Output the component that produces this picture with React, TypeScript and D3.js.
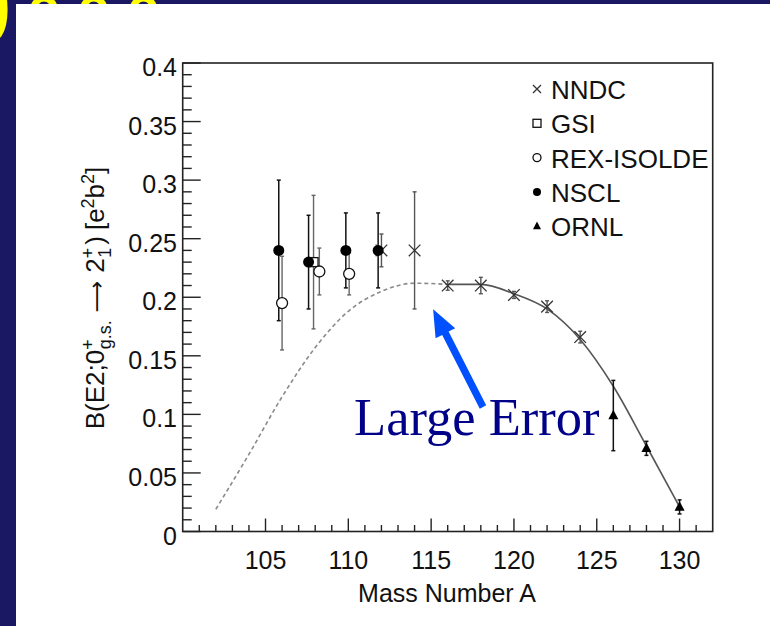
import React from "react";
import * as d3 from "d3";

// ---------- data ----------
const nndcA = [112, 114, 116, 118, 120, 122, 124];
const nndcB = [0.24, 0.24, 0.21, 0.21, 0.202, 0.192, 0.166];
const nndcErr = [0.014, 0.05, 0.004, 0.007, 0.003, 0.005, 0.005];

const gsiA = [107.9];
const gsiB = [0.23];
const gsiErr = [0.057];

const rexA = [106.0, 108.25, 110.05];
const rexB = [0.195, 0.222, 0.22];
const rexErr = [0.04, 0.02, 0.018];

const nsclA = [105.8, 107.6, 109.85, 111.8];
const nsclB = [0.24, 0.23, 0.24, 0.24];
const nsclErr = [0.06, 0.04, 0.032, 0.032];

const ornlA = [126, 128, 130];
const ornlB = [0.099, 0.071, 0.021];
const ornlErr = [0.03, 0.006, 0.006];

const dashA = [102, 104, 106, 108, 110, 112, 114, 116];
const dashB = [0.019, 0.066, 0.115, 0.157, 0.188, 0.205, 0.212, 0.211];

const solidA = [116, 118, 120, 122, 124, 126, 128, 130];
const solidB = [0.211, 0.211, 0.203, 0.19, 0.164, 0.124, 0.073, 0.021];

const xMajorTicks = [105, 110, 115, 120, 125, 130];
const yMajorTicks = [0, 0.05, 0.1, 0.15, 0.2, 0.25, 0.3, 0.35, 0.4];
const yTickLabels = ["0", "0.05", "0.1", "0.15", "0.2", "0.25", "0.3", "0.35", "0.4"];

const legendLabels = ["NNDC", "GSI", "REX-ISOLDE", "NSCL", "ORNL"];
const legendMarkers = ["x", "square", "circle", "dot", "triangle"];

// annotation anchor (data coords)
const arrowTail = { a: 118.13, b: 0.1063 };
const arrowTip = { a: 115.12, b: 0.1898 };
const noteAnchor = { a: 110.35, b: 0.0824 };

// ---------- layout ----------
const W = 770;
const H = 626;
const fl = 182.7, fr = 712.7, ft = 63, fb = 531.5;

const x = d3.scaleLinear().domain([100, 132]).range([fl, fr]);
const y = d3.scaleLinear().domain([0, 0.4]).range([fb, ft]);

const SANS = "'Liberation Sans', Arial, Helvetica, sans-serif";

function Marker({ kind, cx, cy, s }: { kind: string; cx: number; cy: number; s: number }) {
  if (kind === "x")
    return (
      <path
        d={`M${cx - s},${cy - s}L${cx + s},${cy + s}M${cx - s},${cy + s}L${cx + s},${cy - s}`}
        stroke="#333"
        strokeWidth={1.3}
        fill="none"
      />
    );
  if (kind === "square")
    return <rect x={cx - s} y={cy - s} width={2 * s} height={2 * s} fill="#fff" stroke="#111" strokeWidth={1.3} />;
  if (kind === "circle") return <circle cx={cx} cy={cy} r={s} fill="#fff" stroke="#111" strokeWidth={1.3} />;
  if (kind === "dot") return <circle cx={cx} cy={cy} r={s} fill="#000" />;
  // triangle
  return (
    <path
      d={`M${cx},${cy - s * 1.15}L${cx + s},${cy + s * 0.75}L${cx - s},${cy + s * 0.75}Z`}
      fill="#000"
    />
  );
}

function ErrBars({ A, B, E, color, width }: { A: number[]; B: number[]; E: number[]; color: string; width: number }) {
  return (
    <g stroke={color} strokeWidth={width} fill="none">
      {A.map((a, i) => {
        const px = x(a);
        const y1 = y(B[i] + E[i]);
        const y0 = y(B[i] - E[i]);
        return (
          <g key={i}>
            <line x1={px} x2={px} y1={y1} y2={y0} />
            <line x1={px - 2} x2={px + 2} y1={y1} y2={y1} />
            <line x1={px - 2} x2={px + 2} y1={y0} y2={y0} />
          </g>
        );
      })}
    </g>
  );
}

export default function App() {
  const dashPath = d3
    .line<number>()
    .x((_, i) => x(dashA[i]))
    .y((d) => y(d))
    .curve(d3.curveMonotoneX)(dashB) as string;
  const solidPath = d3
    .line<number>()
    .x((_, i) => x(solidA[i]))
    .y((d) => y(d))
    .curve(d3.curveMonotoneX)(solidB) as string;

  const xMinor = d3.range(101, 132).filter((v) => v % 5 !== 0);
  const yMinor = d3.range(0, 41).map((v) => v / 100).filter((_, i) => i % 5 !== 0);

  // arrow geometry
  const tx = x(arrowTail.a), ty = y(arrowTail.b);
  const hx = x(arrowTip.a), hy = y(arrowTip.b);
  const ang = Math.atan2(hy - ty, hx - tx);
  const ux = Math.cos(ang), uy = Math.sin(ang);
  const nx = -uy, ny = ux;
  const headLen = 27, headW = 11, shaftW = 3.6;
  const bx = hx - ux * headLen, by = hy - uy * headLen;
  const arrowPts = [
    [tx + nx * shaftW, ty + ny * shaftW],
    [bx + nx * shaftW, by + ny * shaftW],
    [bx + nx * headW, by + ny * headW],
    [hx, hy],
    [bx - nx * headW, by - ny * headW],
    [bx - nx * shaftW, by - ny * shaftW],
    [tx - nx * shaftW, ty - ny * shaftW],
  ]
    .map((p) => p.join(","))
    .join(" ");

  const legendY = (i: number) => 89 + i * 34.3;

  return (
    <svg width={W} height={H} style={{ position: "absolute", left: 0, top: 0 }}>
      <rect x={0} y={0} width={W} height={H} fill="#1a1862" />
      {/* title fragments, cut off by the white panel */}
      <text x={-44} y={44} fontFamily={SANS} fontWeight="bold" fontSize={100} fill="#ffff00">
        0
      </text>
      <text x={28} y={24} fontFamily={SANS} fontWeight="bold" fontSize={52} fill="#ffff00" letterSpacing={18}>
        ooo
      </text>
      <rect x={16} y={4} width={W - 16} height={H - 4} fill="#ffffff" />

      {/* curves */}
      <path d={dashPath} fill="none" stroke="#8a8a8a" strokeWidth={1.6} strokeDasharray="4,3" />
      <path d={solidPath} fill="none" stroke="#555" strokeWidth={1.6} />

      {/* frame */}
      <rect x={fl} y={ft} width={fr - fl} height={fb - ft} fill="none" stroke="#222" strokeWidth={1.6} />

      {/* ticks */}
      <g stroke="#222" strokeWidth={1.4}>
        {xMajorTicks.map((t) => (
          <line key={"xM" + t} x1={x(t)} x2={x(t)} y1={fb} y2={fb - 13} />
        ))}
        {xMinor.map((t) => (
          <line key={"xm" + t} x1={x(t)} x2={x(t)} y1={fb} y2={fb - 6.5} />
        ))}
        {yMajorTicks.map((t) => (
          <line key={"yM" + t} x1={fl} x2={fl + 18} y1={y(t)} y2={y(t)} />
        ))}
        {yMinor.map((t) => (
          <line key={"ym" + t} x1={fl} x2={fl + 9} y1={y(t)} y2={y(t)} />
        ))}
      </g>

      {/* tick labels */}
      <g fontFamily={SANS} fontSize={25} fill="#111">
        {xMajorTicks.map((t) => (
          <text key={"xl" + t} x={x(t)} y={569} textAnchor="middle">
            {t}
          </text>
        ))}
        {yMajorTicks.map((t, i) => (
          <text key={"yl" + t} x={177} y={y(t) + 13} textAnchor="end">
            {yTickLabels[i]}
          </text>
        ))}
      </g>

      {/* axis titles */}
      <text x={447} y={602} textAnchor="middle" fontFamily={SANS} fontSize={25} fill="#111">
        Mass Number A
      </text>
      <text
        transform="translate(104,298) rotate(-90)"
        textAnchor="middle"
        fontFamily={SANS}
        fontSize={26}
        fill="#111"
      >
        B(E2;0
        <tspan fontSize={18} dy={-10}>+</tspan>
        <tspan fontSize={18} dx={-10} dy={17}>g.s.</tspan>
        <tspan dx={8} dy={-7} fontFamily="'DejaVu Sans', sans-serif" fontSize={22}>{"\u27F6"}</tspan>
        <tspan dx={8}>2</tspan>
        <tspan fontSize={18} dy={-10}>+</tspan>
        <tspan fontSize={18} dx={-10} dy={17}>1</tspan>
        <tspan dx={3} dy={-7}>{")"}</tspan>
        <tspan dx={6}>{"[e"}</tspan>
        <tspan fontSize={18} dy={-10}>2</tspan>
        <tspan dy={10}>b</tspan>
        <tspan fontSize={18} dy={-10}>2</tspan>
        <tspan dy={10}>]</tspan>
      </text>

      {/* error bars */}
      <ErrBars A={nndcA} B={nndcB} E={nndcErr} color="#555" width={1.4} />
      <ErrBars A={gsiA} B={gsiB} E={gsiErr} color="#666" width={1.4} />
      <ErrBars A={rexA} B={rexB} E={rexErr} color="#666" width={1.4} />
      <ErrBars A={nsclA} B={nsclB} E={nsclErr} color="#111" width={1.5} />
      <ErrBars A={ornlA} B={ornlB} E={ornlErr} color="#111" width={1.5} />

      {/* markers */}
      {nndcA.map((a, i) => (
        <Marker key={"n" + i} kind="x" cx={x(a)} cy={y(nndcB[i])} s={5.8} />
      ))}
      {gsiA.map((a, i) => (
        <Marker key={"g" + i} kind="square" cx={x(a)} cy={y(gsiB[i])} s={4.5} />
      ))}
      {nsclA.map((a, i) => (
        <Marker key={"s" + i} kind="dot" cx={x(a)} cy={y(nsclB[i])} s={5.5} />
      ))}
      {rexA.map((a, i) => (
        <Marker key={"r" + i} kind="circle" cx={x(a)} cy={y(rexB[i])} s={5.5} />
      ))}
      {ornlA.map((a, i) => (
        <Marker key={"o" + i} kind="triangle" cx={x(a)} cy={y(ornlB[i])} s={5} />
      ))}

      {/* legend */}
      <g fontFamily={SANS} fontSize={26} fill="#111">
        {legendLabels.map((l, i) => (
          <g key={l}>
            <Marker kind={legendMarkers[i]} cx={537} cy={legendY(i)} s={4} />
            <text x={551} y={legendY(i) + 10}>
              {l}
            </text>
          </g>
        ))}
      </g>

      {/* annotation */}
      <polygon points={arrowPts} fill="#0050ff" />
      <text
        x={x(noteAnchor.a)}
        y={y(noteAnchor.b)}
        fontFamily="'Liberation Serif', 'Times New Roman', serif"
        fontSize={52.5}
        fill="#000088"
      >
        Large Error
      </text>
    </svg>
  );
}
